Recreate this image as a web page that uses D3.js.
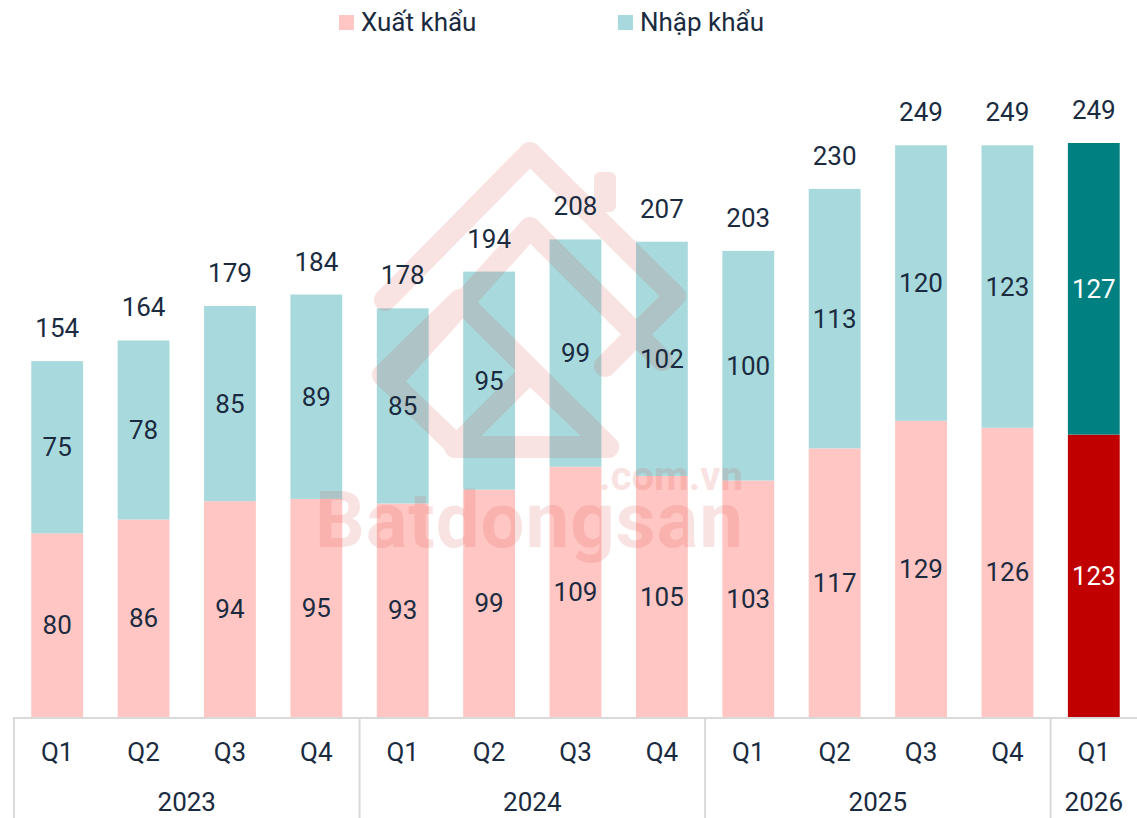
<!DOCTYPE html>
<html>
<head>
<meta charset="utf-8">
<script src="https://cdn.jsdelivr.net/npm/d3@7"></script>
<style>
  body { margin: 0; background: #fff; }
  svg { font-family: Roboto, "Noto Sans", sans-serif; }
</style>
</head>
<body>
<svg width="1137" height="818"></svg>
<script>
const quarters = ["Q1", "Q2", "Q3", "Q4", "Q1", "Q2", "Q3", "Q4", "Q1", "Q2", "Q3", "Q4", "Q1"]
const years = ["2023", "2023", "2023", "2023", "2024", "2024", "2024", "2024", "2025", "2025", "2025", "2025", "2026"]
const exportValues = [80, 86, 94, 95, 93, 99, 109, 105, 103, 117, 129, 126, 123]
const importValues = [75, 78, 85, 89, 85, 95, 99, 102, 100, 113, 120, 123, 127]
const totals = [154, 164, 179, 184, 178, 194, 208, 207, 203, 230, 249, 249, 249]
const seriesNames = ["Xuất khẩu", "Nhập khẩu"]

const textColor = "#1b2b3f"
const colors = { export: "#ffc6c3", import: "#a8dadd" }
const highlight = { export: "#c00000", import: "#008080" }

var svg = d3.select("svg"),
    left = 14, right = 1137, baseY = 717

var data = quarters.map((q, i) => ({
  key: years[i] + "-" + q + "-" + i,
  quarter: q,
  year: years[i],
  export: exportValues[i],
  import: importValues[i],
  total: totals[i],
  last: i === quarters.length - 1
}))

var x = d3.scaleBand()
    .domain(data.map(d => d.key))
    .range([left, right])
    .paddingInner(0.4)
    .paddingOuter(0.2)

var y = d3.scaleLinear()
    .domain([0, 250])
    .range([baseY, 143])

var stack = d3.stack().keys(["export", "import"])(data)
var segments = stack.flatMap(s => s.map(p => ({ series: s.key, y0: p[0], y1: p[1], d: p.data })))

svg.append("g")
  .selectAll("rect")
  .data(segments)
  .enter().append("rect")
    .attr("x", s => x(s.d.key))
    .attr("y", s => y(s.y1))
    .attr("width", x.bandwidth())
    .attr("height", s => y(s.y0) - y(s.y1))
    .attr("fill", s => s.d.last ? highlight[s.series] : colors[s.series])

// watermark, drawn over the bars
var wm = svg.append("g").attr("opacity", 0.13).attr("pointer-events", "none")
wm.selectAll("path")
  .data([
    "M385,300 L530,153 L675,296 L605,366",
    "M400,372 L530,228 L662,360",
    "M383,375 L460,300 L608,447 L530,447 L458,447 L383,375",
    "M455,447 L530,372 L608,447"
  ])
  .enter().append("path")
    .attr("d", d => d)
    .attr("fill", "none")
    .attr("stroke", "#d8322a")
    .attr("stroke-width", 22)
    .attr("stroke-linejoin", "round")
    .attr("stroke-linecap", "round")
wm.append("rect")
    .attr("x", 594).attr("y", 172).attr("width", 22).attr("height", 40).attr("rx", 6)
    .attr("fill", "#d8322a")
wm.append("text")
    .attr("x", 315).attr("y", 547)
    .attr("textLength", 428)
    .attr("font-size", 78).attr("font-weight", "bold")
    .attr("fill", "#d8322a")
    .attr("opacity", 1.4)
    .text("Batdongsan")
wm.append("text")
    .attr("x", 743).attr("y", 490)
    .attr("text-anchor", "end")
    .attr("font-size", 40).attr("font-weight", "bold")
    .attr("fill", "#d8322a")
    .text(".com.vn")

// segment labels
svg.append("g")
  .selectAll("text")
  .data(segments)
  .enter().append("text")
    .attr("x", s => x(s.d.key) + x.bandwidth() / 2)
    .attr("y", s => (y(s.y0) + y(s.y1)) / 2)
    .attr("dy", "0.35em")
    .attr("text-anchor", "middle")
    .attr("font-size", 26)
    .attr("fill", s => s.d.last ? "#fff" : textColor)
    .text(s => s.d[s.series])

// totals
svg.append("g")
  .selectAll("text")
  .data(data)
  .enter().append("text")
    .attr("x", d => x(d.key) + x.bandwidth() / 2)
    .attr("y", d => y(d.export + d.import) - 24)
    .attr("text-anchor", "middle")
    .attr("font-size", 26)
    .attr("fill", textColor)
    .text(d => d.total)

// axis
var axis = svg.append("g")
axis.append("line")
    .attr("x1", left).attr("x2", right)
    .attr("y1", baseY + 1).attr("y2", baseY + 1)
    .attr("stroke", "#d9d9d9").attr("stroke-width", 2)

var yearGroups = d3.groups(data, d => d.year)
var step = x.step()
var groupStart = g => x(g[1][0].key) - x.paddingOuter() * step
var groupEnd = g => x(g[1][g[1].length - 1].key) + x.bandwidth() + x.paddingOuter() * step

axis.selectAll(".sep")
  .data(yearGroups)
  .enter().append("line")
    .attr("x1", g => groupStart(g)).attr("x2", g => groupStart(g))
    .attr("y1", baseY).attr("y2", 818)
    .attr("stroke", "#d9d9d9").attr("stroke-width", 2)

axis.selectAll(".q")
  .data(data)
  .enter().append("text")
    .attr("x", d => x(d.key) + x.bandwidth() / 2)
    .attr("y", 761)
    .attr("text-anchor", "middle")
    .attr("font-size", 26)
    .attr("fill", textColor)
    .text(d => d.quarter)

axis.selectAll(".yr")
  .data(yearGroups)
  .enter().append("text")
    .attr("x", g => (groupStart(g) + groupEnd(g)) / 2)
    .attr("y", 811)
    .attr("text-anchor", "middle")
    .attr("font-size", 26)
    .attr("fill", textColor)
    .text(g => g[0])

// legend
var legend = svg.append("g")
  .selectAll("g")
  .data(seriesNames)
  .enter().append("g")
    .attr("transform", (d, i) => "translate(" + (339 + i * 279) + ",0)")

legend.append("rect")
    .attr("y", 15)
    .attr("width", 15)
    .attr("height", 15)
    .attr("fill", (d, i) => i === 0 ? colors.export : colors.import)

legend.append("text")
    .attr("x", 22)
    .attr("y", 31)
    .attr("font-size", 26)
    .attr("fill", textColor)
    .text(d => d)
</script>
</body>
</html>
